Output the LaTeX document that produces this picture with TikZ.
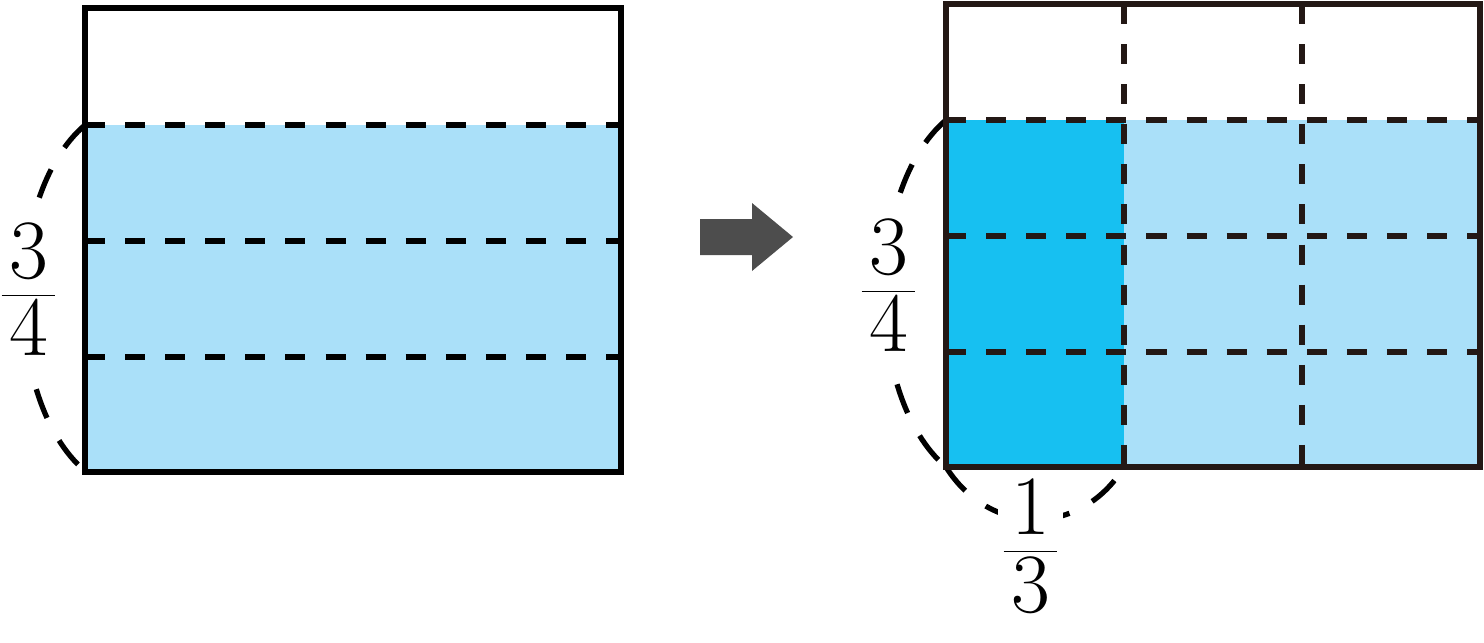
\documentclass[tikz,border=0pt]{standalone}
\usepackage{fontspec}
\definecolor{paleblue}{HTML}{AAE0F9}
\definecolor{deepblue}{HTML}{17C0F1}
\definecolor{ink}{HTML}{231815}
\definecolor{arrowgray}{HTML}{4D4D4D}
% fraction with the spacing of the drawing
\newcommand{\fr}[2]{$\frac{\mbox{\kern.09em\raisebox{.056em}{#1}\kern.09em}}{\mbox{\kern.09em\rule{0pt}{.69em}#2\kern.09em}}$}
\begin{document}
\begin{tikzpicture}[
   x=0.01cm,y=-0.01cm,
   frame/.style={line width=1.7pt},
   grid/.style={line width=1.55pt,dash pattern=on 5.7pt off 5.7pt},
   curve/.style={line width=1.5pt,dash pattern=on 8.7pt off 7.3pt},
   lab/.style={fill=white,inner xsep=0.5pt,inner ysep=3pt,font=\fontsize{24}{29}\selectfont}]
\useasboundingbox (0,0) rectangle (1484,642);
% left: 3/4 of the whole
\fill[paleblue] (85,125) rectangle (621,472);
\coordinate (lt) at (85,125);
\coordinate (lb) at (85,471);
\draw[curve] (lt) .. controls +(-82,70) and +(-82,-70) .. (lb);
\node[lab] (lq) at (28.5,289) {\fr34};
\draw[grid] (85,125) -- (621,125);
\draw[grid] (85,241) -- (621,241);
\draw[grid] (85,357) -- (621,357);
\draw[frame] (85,8) rectangle (621,472);
% arrow
\fill[arrowgray] (700,219) -- (752,219) -- (752,203) -- (793,237) -- (752,271) -- (752,255) -- (700,255) -- cycle;
% right: 1/3 of 3/4
\fill[paleblue] (946,120) rectangle (1480,467);
\fill[deepblue] (946,120) rectangle (1124,467);
\coordinate (rt) at (946,120);
\coordinate (rb) at (946,467);
\coordinate (br) at (1124,467);
\draw[curve] (rt) .. controls +(-82,70) and +(-82,-70) .. (rb);
\draw[curve] (rb) .. controls +(44,70) and +(-43,70) .. (br);
\node[lab] (rq) at (888.5,285) {\fr34};
\node[lab] (bq) at (1030.5,546) {\fr13};
\draw[grid,ink] (946,120) -- (1480,120);
\draw[grid,ink] (946,236) -- (1480,236);
\draw[grid,ink] (946,352) -- (1480,352);
\draw[grid,ink] (1124,4) -- (1124,467);
\draw[grid,ink] (1302,4) -- (1302,467);
\draw[frame,ink] (946,4) rectangle (1480,467);
\end{tikzpicture}
\end{document}
